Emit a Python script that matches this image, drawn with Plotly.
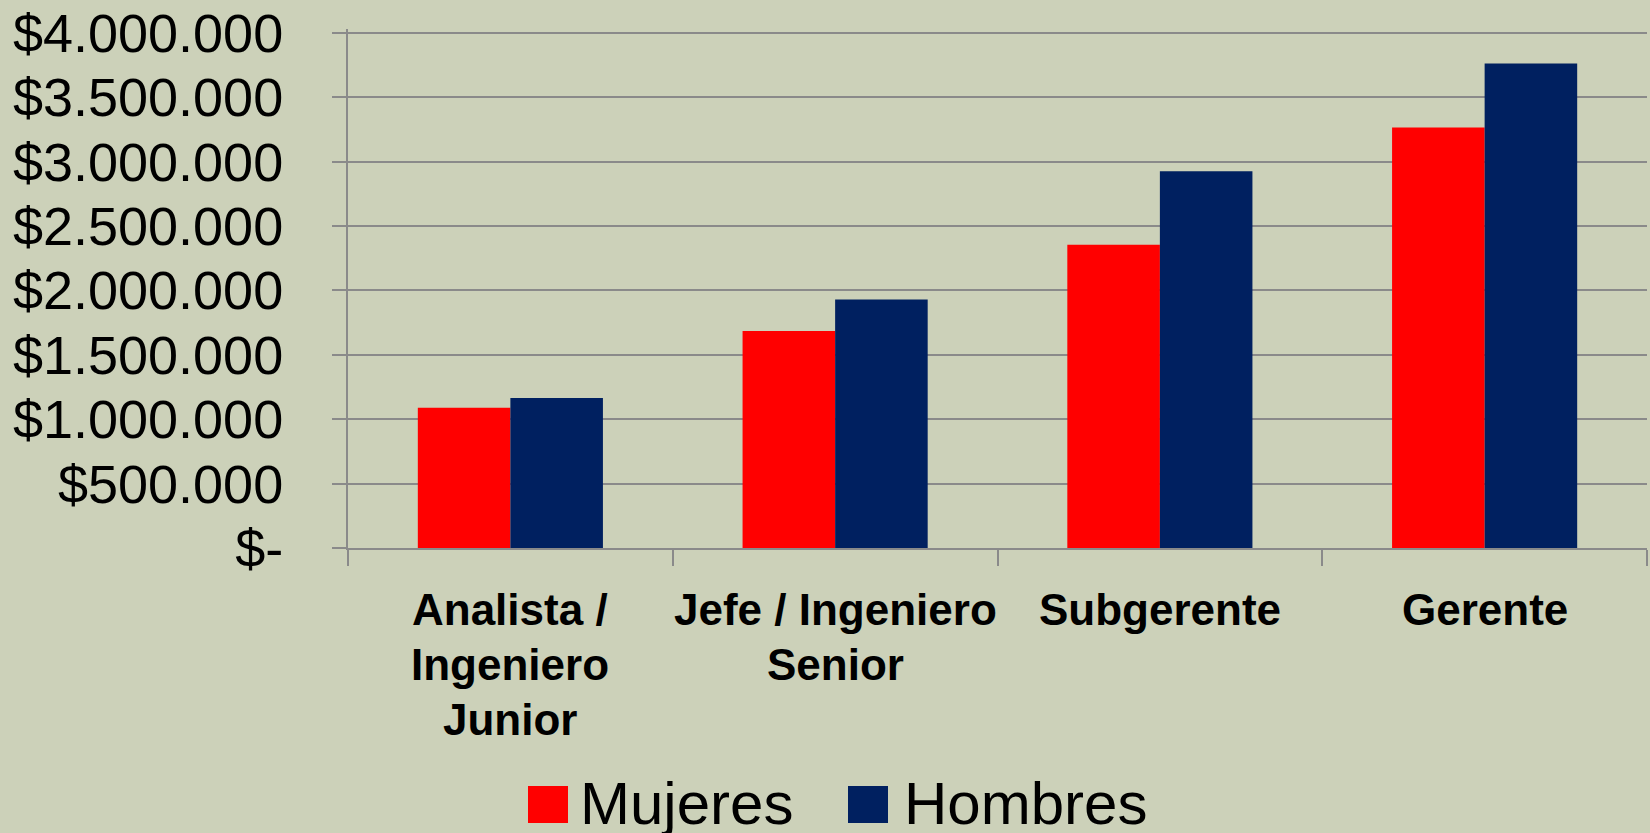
import plotly.graph_objects as go

BG = "#CCD1B9"
GRID = "#8A8A8A"
RED = "#FF0000"
NAVY = "#002060"

categories = ["Analista /<br>Ingeniero<br>Junior", "Jefe / Ingeniero<br>Senior", "Subgerente", "Gerente"]
mujeres = [1090000, 1685000, 2355000, 3265000]
hombres = [1165000, 1930000, 2925000, 3763000]
series_names = ["Mujeres", "Hombres"]
y_ticks = [0, 500000, 1000000, 1500000, 2000000, 2500000, 3000000, 3500000, 4000000]
y_ticktext = ["$-", "$500.000", "$1.000.000", "$1.500.000", "$2.000.000",
              "$2.500.000", "$3.000.000", "$3.500.000", "$4.000.000"]

W, H = 1650, 833
L, R, T, B = 348, 3, 27, 285
PW, PH = W - L - R, H - T - B
Y_MAX = 4030000


def px_x(x):
    return (x - L) / PW


def px_y(y):
    return (H - B - y) / PH


fig = go.Figure()
fig.add_trace(go.Bar(x=categories, y=mujeres, name=series_names[0],
                     marker=dict(color=RED, line=dict(width=0))))
fig.add_trace(go.Bar(x=categories, y=hombres, name=series_names[1],
                     marker=dict(color=NAVY, line=dict(width=0))))

# category labels, one annotation per line to keep Excel-like tight spacing
label_font = dict(family="Liberation Sans, Arial, sans-serif", size=44, color="black")
for cat in categories:
    for i, line in enumerate(cat.split("<br>")):
        fig.add_annotation(x=cat, y=0, xref="x", yref="y", text="<b>%s</b>" % line,
                           showarrow=False, yanchor="middle", yshift=-(61 + 55 * i),
                           font=label_font)

# legend drawn by hand to get the large swatches
legend_items = [(528, 578, RED, series_names[0]), (848, 902, NAVY, series_names[1])]
for x0, tx, col, name in legend_items:
    fig.add_shape(type="rect", xref="paper", yref="paper",
                  x0=px_x(x0), x1=px_x(x0 + 40), y0=px_y(824), y1=px_y(787),
                  fillcolor=col, line=dict(width=0))
    fig.add_annotation(x=px_x(tx), y=px_y(804), xref="paper", yref="paper",
                       text=name, showarrow=False, xanchor="left", yanchor="middle",
                       font=dict(family="Liberation Sans, Arial, sans-serif", size=60, color="black"))

fig.update_layout(
    width=W, height=H,
    paper_bgcolor=BG, plot_bgcolor=BG,
    margin=dict(l=L, r=R, t=T, b=B),
    barmode="group", bargap=0.43, bargroupgap=0,
    showlegend=False,
    font=dict(family="Liberation Sans, Arial, sans-serif", color="black"),
)
fig.update_xaxes(
    showticklabels=False, showgrid=False,
    showline=True, linecolor=GRID, linewidth=2,
    ticks="outside", tickson="boundaries", ticklen=16, tickcolor=GRID, tickwidth=2,
)
fig.update_yaxes(
    range=[0, Y_MAX], tickvals=y_ticks, ticktext=y_ticktext,
    showgrid=True, gridcolor=GRID, gridwidth=2, zeroline=False,
    showline=True, linecolor=GRID, linewidth=2,
    ticks="outside", ticklen=14, tickcolor=GRID, tickwidth=2,
    ticklabelstandoff=38,
    tickfont=dict(family="Liberation Sans, Arial, sans-serif", size=54, color="black"),
)

fig.write_html("out.html", config={"displayModeBar": False},
               post_script="document.body.style.margin='0';")
